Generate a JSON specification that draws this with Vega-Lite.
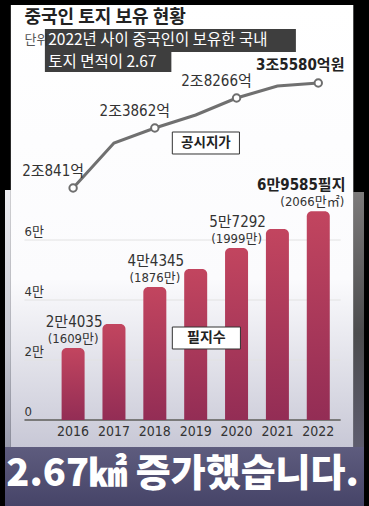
{
  "$schema": "https://vega.github.io/schema/vega-lite/v6.json",
  "width": 369,
  "height": 506,
  "autosize": {"type": "none"},
  "padding": 0,
  "background": "#000000",
  "config": {"view": {"stroke": null}},
  "datasets": {
    "one": [{}],
    "grid": [
      {"v": 0, "label": "0"},
      {"v": 20000, "label": "2만"},
      {"v": 40000, "label": "4만"},
      {"v": 60000, "label": "6만"}
    ],
    "bars": [
      {"year": 2016, "count": 24035, "label1": "2만4035", "label2": "(1609만)"},
      {"year": 2017, "count": 32000, "label1": null, "label2": null},
      {"year": 2018, "count": 44345, "label1": "4만4345", "label2": "(1876만)"},
      {"year": 2019, "count": 50300, "label1": null, "label2": null},
      {"year": 2020, "count": 57292, "label1": "5만7292", "label2": "(1999만)"},
      {"year": 2021, "count": 63700, "label1": null, "label2": null},
      {"year": 2022, "count": 69585, "label1": "6만9585필지", "label2": "(2066만㎡)"}
    ],
    "price": [
      {"year": 2016, "value": 20841, "label": "2조841억"},
      {"year": 2017, "value": 23107, "label": null},
      {"year": 2018, "value": 23862, "label": "2조3862억"},
      {"year": 2019, "value": 25770, "label": null},
      {"year": 2020, "value": 28266, "label": "2조8266억"},
      {"year": 2021, "value": 34117, "label": null},
      {"year": 2022, "value": 35580, "label": "3조5580억원"}
    ]
  },
  "resolve": {"scale": {"y": "independent"}},
  "layer": [
    {
      "layer": [
        {
          "data": {"name": "one"},
          "mark": {"type": "rect", "fill": {"gradient": "linear", "x1": 0, "y1": 0, "x2": 0, "y2": 1, "stops": [{"offset": 0, "color": "#7c7a7a"}, {"offset": 0.45, "color": "#4c4c4e"}, {"offset": 1, "color": "#67657f"}]}},
          "encoding": {
            "x": {"datum": 2022.8571, "type": "quantitative", "scale": {"domain": [2014.3333, 2023.119], "nice": false, "zero": false}, "axis": null},
            "x2": {"datum": 2023.119},
            "y": {"datum": 76000, "type": "quantitative", "scale": {"domain": [-28666.67, 140000], "nice": false, "zero": false}, "axis": null},
            "y2": {"datum": -28666.67}
          }
        },
        {
          "data": {"name": "one"},
          "mark": {"type": "rect", "fill": {"gradient": "linear", "x1": 0, "y1": 0, "x2": 0, "y2": 1, "stops": [{"offset": 0, "color": "#ececf0"}, {"offset": 0.5, "color": "#c4c6d0"}, {"offset": 1, "color": "#7e8096"}]}},
          "encoding": {
            "x": {"datum": 2014.3333, "type": "quantitative", "scale": {"domain": [2014.3333, 2023.119], "nice": false, "zero": false}, "axis": null},
            "x2": {"datum": 2014.4762},
            "y": {"datum": 76666.67, "type": "quantitative", "scale": {"domain": [-28666.67, 140000], "nice": false, "zero": false}, "axis": null},
            "y2": {"datum": -28666.67}
          }
        },
        {
          "data": {"name": "one"},
          "mark": {"type": "rect", "fill": {"gradient": "linear", "x1": 0, "y1": 0, "x2": 0, "y2": 1, "stops": [{"offset": 0, "color": "#5e5c7e"}, {"offset": 1, "color": "#464468"}]}},
          "encoding": {
            "x": {"datum": 2014.3333, "type": "quantitative", "scale": {"domain": [2014.3333, 2023.119], "nice": false, "zero": false}, "axis": null},
            "x2": {"datum": 2023.119},
            "y": {"datum": -9000, "type": "quantitative", "scale": {"domain": [-28666.67, 140000], "nice": false, "zero": false}, "axis": null},
            "y2": {"datum": -28666.67}
          }
        },
        {
          "data": {"name": "one"},
          "mark": {"type": "rect", "fill": {"gradient": "linear", "x1": 0, "y1": 0, "x2": 0, "y2": 1, "stops": [{"offset": 0, "color": "#ffffff"}, {"offset": 0.62, "color": "#fbfbfd"}, {"offset": 1, "color": "#c8c8d6"}]}},
          "encoding": {
            "x": {"datum": 2014.4762, "type": "quantitative", "scale": {"domain": [2014.3333, 2023.119], "nice": false, "zero": false}, "axis": null},
            "x2": {"datum": 2022.8571},
            "y": {"datum": 138333.33, "type": "quantitative", "scale": {"domain": [-28666.67, 140000], "nice": false, "zero": false}, "axis": null},
            "y2": {"datum": -9000}
          }
        },
        {
          "data": {"name": "grid"},
          "mark": {"type": "rule"},
          "encoding": {
            "x": {"datum": 2014.81, "type": "quantitative", "scale": {"domain": [2014.3333, 2023.119], "nice": false, "zero": false}, "axis": null},
            "x2": {"datum": 2022.548},
            "y": {"field": "v", "type": "quantitative", "scale": {"domain": [-28666.67, 140000], "nice": false, "zero": false}, "axis": null},
            "color": {"condition": {"test": "datum.v == 0", "value": "#7a7a7a"}, "value": "#e2e2e2"},
            "strokeWidth": {"condition": {"test": "datum.v == 0", "value": 2}, "value": 1}
          }
        },
        {
          "data": {"name": "grid"},
          "mark": {"type": "text", "align": "left", "baseline": "alphabetic", "dy": -4, "fontSize": 13, "color": "#333333", "font": "Liberation Sans Narrow, DejaVu Sans Condensed, Noto Sans CJK KR"},
          "encoding": {
            "x": {"datum": 2014.81, "type": "quantitative", "scale": {"domain": [2014.3333, 2023.119], "nice": false, "zero": false}, "axis": null},
            "y": {"field": "v", "type": "quantitative", "scale": {"domain": [-28666.67, 140000], "nice": false, "zero": false}, "axis": null},
            "text": {"field": "label", "type": "nominal"}
          }
        },
        {
          "data": {"name": "bars"},
          "mark": {"type": "bar", "width": 23, "cornerRadiusTopLeft": 5, "cornerRadiusTopRight": 5, "fill": {"gradient": "linear", "x1": 0, "y1": 0, "x2": 0, "y2": 1, "stops": [{"offset": 0, "color": "#c2455f"}, {"offset": 1, "color": "#932d55"}]}},
          "encoding": {
            "x": {"field": "year", "type": "quantitative", "scale": {"domain": [2014.3333, 2023.119], "nice": false, "zero": false}, "axis": null},
            "y": {"field": "count", "type": "quantitative", "scale": {"domain": [-28666.67, 140000], "nice": false, "zero": false}, "axis": null},
            "y2": {"datum": 0}
          }
        },
        {
          "data": {"name": "bars"},
          "transform": [{"filter": "datum.label1 != null && datum.year != 2022"}],
          "mark": {"type": "text", "baseline": "middle", "dx": 1, "dy": -26, "fontSize": 15, "color": "#333333", "font": "Liberation Sans Narrow, DejaVu Sans Condensed, Noto Sans CJK KR"},
          "encoding": {
            "x": {"field": "year", "type": "quantitative", "scale": {"domain": [2014.3333, 2023.119], "nice": false, "zero": false}, "axis": null},
            "y": {"field": "count", "type": "quantitative", "scale": {"domain": [-28666.67, 140000], "nice": false, "zero": false}, "axis": null},
            "text": {"field": "label1", "type": "nominal"}
          }
        },
        {
          "data": {"name": "bars"},
          "transform": [{"filter": "datum.label2 != null && datum.year != 2022"}],
          "mark": {"type": "text", "baseline": "middle", "dx": 0, "dy": -9, "fontSize": 13, "color": "#333333", "font": "Liberation Sans Narrow, DejaVu Sans Condensed, Noto Sans CJK KR"},
          "encoding": {
            "x": {"field": "year", "type": "quantitative", "scale": {"domain": [2014.3333, 2023.119], "nice": false, "zero": false}, "axis": null},
            "y": {"field": "count", "type": "quantitative", "scale": {"domain": [-28666.67, 140000], "nice": false, "zero": false}, "axis": null},
            "text": {"field": "label2", "type": "nominal"}
          }
        },
        {
          "data": {"name": "bars"},
          "transform": [{"filter": "datum.year == 2022"}],
          "mark": {"type": "text", "baseline": "middle", "dx": -17, "dy": -26, "fontSize": 15, "fontWeight": "bold", "color": "#222222", "font": "Liberation Sans Narrow, DejaVu Sans Condensed, Noto Sans CJK KR"},
          "encoding": {
            "x": {"field": "year", "type": "quantitative", "scale": {"domain": [2014.3333, 2023.119], "nice": false, "zero": false}, "axis": null},
            "y": {"field": "count", "type": "quantitative", "scale": {"domain": [-28666.67, 140000], "nice": false, "zero": false}, "axis": null},
            "text": {"field": "label1", "type": "nominal"}
          }
        },
        {
          "data": {"name": "bars"},
          "transform": [{"filter": "datum.year == 2022"}],
          "mark": {"type": "text", "baseline": "middle", "dx": -6, "dy": -9, "fontSize": 13, "color": "#333333", "font": "Liberation Sans Narrow, DejaVu Sans Condensed, Noto Sans CJK KR"},
          "encoding": {
            "x": {"field": "year", "type": "quantitative", "scale": {"domain": [2014.3333, 2023.119], "nice": false, "zero": false}, "axis": null},
            "y": {"field": "count", "type": "quantitative", "scale": {"domain": [-28666.67, 140000], "nice": false, "zero": false}, "axis": null},
            "text": {"field": "label2", "type": "nominal"}
          }
        },
        {
          "data": {"name": "bars"},
          "mark": {"type": "text", "baseline": "middle", "fontSize": 14, "color": "#333333", "font": "Liberation Sans Narrow, DejaVu Sans Condensed, Noto Sans CJK KR"},
          "encoding": {
            "x": {"field": "year", "type": "quantitative", "scale": {"domain": [2014.3333, 2023.119], "nice": false, "zero": false}, "axis": null},
            "y": {"datum": -4000, "type": "quantitative", "scale": {"domain": [-28666.67, 140000], "nice": false, "zero": false}, "axis": null},
            "text": {"field": "year", "type": "nominal"}
          }
        },
        {
          "data": {"name": "one"},
          "mark": {"type": "rect", "fill": "white", "stroke": "#333333", "strokeWidth": 1},
          "encoding": {
            "x": {"datum": 2018.428, "type": "quantitative", "scale": {"domain": [2014.3333, 2023.119], "nice": false, "zero": false}, "axis": null},
            "x2": {"datum": 2020.095},
            "y": {"datum": 31000, "type": "quantitative", "scale": {"domain": [-28666.67, 140000], "nice": false, "zero": false}, "axis": null},
            "y2": {"datum": 23667}
          }
        },
        {
          "data": {"name": "one"},
          "mark": {"type": "text", "text": "필지수", "baseline": "middle", "fontSize": 14, "fontWeight": "bold", "color": "#222222", "font": "Noto Sans CJK KR"},
          "encoding": {
            "x": {"datum": 2019.26, "type": "quantitative", "scale": {"domain": [2014.3333, 2023.119], "nice": false, "zero": false}, "axis": null},
            "y": {"datum": 27333, "type": "quantitative", "scale": {"domain": [-28666.67, 140000], "nice": false, "zero": false}, "axis": null}
          }
        },
        {
          "data": {"name": "one"},
          "mark": {"type": "rect", "fill": "white", "stroke": "#333333", "strokeWidth": 1},
          "encoding": {
            "x": {"datum": 2018.428, "type": "quantitative", "scale": {"domain": [2014.3333, 2023.119], "nice": false, "zero": false}, "axis": null},
            "x2": {"datum": 2020.071},
            "y": {"datum": 96000, "type": "quantitative", "scale": {"domain": [-28666.67, 140000], "nice": false, "zero": false}, "axis": null},
            "y2": {"datum": 88667}
          }
        },
        {
          "data": {"name": "one"},
          "mark": {"type": "text", "text": "공시지가", "baseline": "middle", "fontSize": 13.5, "fontWeight": "bold", "color": "#222222", "font": "Noto Sans CJK KR"},
          "encoding": {
            "x": {"datum": 2019.25, "type": "quantitative", "scale": {"domain": [2014.3333, 2023.119], "nice": false, "zero": false}, "axis": null},
            "y": {"datum": 92333, "type": "quantitative", "scale": {"domain": [-28666.67, 140000], "nice": false, "zero": false}, "axis": null}
          }
        },
        {
          "data": {"name": "one"},
          "mark": {"type": "text", "text": "중국인 토지 보유 현황", "align": "left", "baseline": "middle", "fontSize": 18, "fontWeight": "bold", "color": "#222222", "font": "Noto Sans CJK KR"},
          "encoding": {
            "x": {"datum": 2014.81, "type": "quantitative", "scale": {"domain": [2014.3333, 2023.119], "nice": false, "zero": false}, "axis": null},
            "y": {"datum": 134000, "type": "quantitative", "scale": {"domain": [-28666.67, 140000], "nice": false, "zero": false}, "axis": null}
          }
        },
        {
          "data": {"name": "one"},
          "mark": {"type": "text", "text": "단위", "align": "left", "baseline": "middle", "fontSize": 13, "color": "#555555", "font": "Noto Sans CJK KR"},
          "encoding": {
            "x": {"datum": 2014.81, "type": "quantitative", "scale": {"domain": [2014.3333, 2023.119], "nice": false, "zero": false}, "axis": null},
            "y": {"datum": 126667, "type": "quantitative", "scale": {"domain": [-28666.67, 140000], "nice": false, "zero": false}, "axis": null}
          }
        },
        {
          "data": {"name": "one"},
          "mark": {"type": "rect", "fill": "#2f2f2f", "opacity": 0.93},
          "encoding": {
            "x": {"datum": 2015.3095, "type": "quantitative", "scale": {"domain": [2014.3333, 2023.119], "nice": false, "zero": false}, "axis": null},
            "x2": {"datum": 2021.4524},
            "y": {"datum": 130333, "type": "quantitative", "scale": {"domain": [-28666.67, 140000], "nice": false, "zero": false}, "axis": null},
            "y2": {"datum": 122667}
          }
        },
        {
          "data": {"name": "one"},
          "mark": {"type": "rect", "fill": "#2f2f2f", "opacity": 0.93},
          "encoding": {
            "x": {"datum": 2015.3095, "type": "quantitative", "scale": {"domain": [2014.3333, 2023.119], "nice": false, "zero": false}, "axis": null},
            "x2": {"datum": 2018.4048},
            "y": {"datum": 122667, "type": "quantitative", "scale": {"domain": [-28666.67, 140000], "nice": false, "zero": false}, "axis": null},
            "y2": {"datum": 116000}
          }
        },
        {
          "data": {"name": "one"},
          "mark": {"type": "text", "text": "2022년 사이 중국인이 보유한 국내", "align": "left", "baseline": "middle", "fontSize": 15.5, "letterSpacing": 1, "color": "white", "font": "Noto Sans CJK KR"},
          "encoding": {
            "x": {"datum": 2015.39, "type": "quantitative", "scale": {"domain": [2014.3333, 2023.119], "nice": false, "zero": false}, "axis": null},
            "y": {"datum": 126833, "type": "quantitative", "scale": {"domain": [-28666.67, 140000], "nice": false, "zero": false}, "axis": null}
          }
        },
        {
          "data": {"name": "one"},
          "mark": {"type": "text", "text": "토지 면적이 2.67", "align": "left", "baseline": "middle", "fontSize": 15.5, "letterSpacing": 1, "color": "white", "font": "Noto Sans CJK KR"},
          "encoding": {
            "x": {"datum": 2015.39, "type": "quantitative", "scale": {"domain": [2014.3333, 2023.119], "nice": false, "zero": false}, "axis": null},
            "y": {"datum": 119167, "type": "quantitative", "scale": {"domain": [-28666.67, 140000], "nice": false, "zero": false}, "axis": null}
          }
        },
        {
          "data": {"name": "one"},
          "mark": {"type": "text", "text": "2.67㎢ 증가했습니다.", "align": "center", "baseline": "middle", "fontSize": 38, "fontWeight": 900, "color": "white", "font": "Noto Sans CJK KR"},
          "encoding": {
            "x": {"datum": 2018.679, "type": "quantitative", "scale": {"domain": [2014.3333, 2023.119], "nice": false, "zero": false}, "axis": null},
            "y": {"datum": -18333, "type": "quantitative", "scale": {"domain": [-28666.67, 140000], "nice": false, "zero": false}, "axis": null}
          }
        }
      ]
    },
    {
      "data": {"name": "price"},
      "layer": [
        {
          "mark": {"type": "line", "color": "#707070", "strokeWidth": 3},
          "encoding": {
            "x": {"field": "year", "type": "quantitative", "scale": {"domain": [2014.3333, 2023.119], "nice": false, "zero": false}, "axis": null},
            "y": {"field": "value", "type": "quantitative", "scale": {"type": "linear", "domain": [20841, 23862, 28266, 35580], "range": [188, 128, 98, 83], "nice": false, "zero": false}, "axis": null}
          }
        },
        {
          "transform": [{"filter": "datum.label != null"}],
          "mark": {"type": "circle", "fill": "white", "stroke": "#6e6e6e", "strokeWidth": 2, "size": 55, "opacity": 1},
          "encoding": {
            "x": {"field": "year", "type": "quantitative", "scale": {"domain": [2014.3333, 2023.119], "nice": false, "zero": false}, "axis": null},
            "y": {"field": "value", "type": "quantitative", "scale": {"type": "linear", "domain": [20841, 23862, 28266, 35580], "range": [188, 128, 98, 83], "nice": false, "zero": false}, "axis": null}
          }
        },
        {
          "transform": [{"filter": "datum.label != null && datum.year != 2022"}],
          "mark": {"type": "text", "baseline": "middle", "dx": -20, "dy": -17, "fontSize": 15, "color": "#333333", "font": "Liberation Sans Narrow, DejaVu Sans Condensed, Noto Sans CJK KR"},
          "encoding": {
            "x": {"field": "year", "type": "quantitative", "scale": {"domain": [2014.3333, 2023.119], "nice": false, "zero": false}, "axis": null},
            "y": {"field": "value", "type": "quantitative", "scale": {"type": "linear", "domain": [20841, 23862, 28266, 35580], "range": [188, 128, 98, 83], "nice": false, "zero": false}, "axis": null},
            "text": {"field": "label", "type": "nominal"}
          }
        },
        {
          "transform": [{"filter": "datum.year == 2022"}],
          "mark": {"type": "text", "baseline": "middle", "dx": -18, "dy": -18, "fontSize": 15, "fontWeight": "bold", "color": "#222222", "font": "Liberation Sans Narrow, DejaVu Sans Condensed, Noto Sans CJK KR"},
          "encoding": {
            "x": {"field": "year", "type": "quantitative", "scale": {"domain": [2014.3333, 2023.119], "nice": false, "zero": false}, "axis": null},
            "y": {"field": "value", "type": "quantitative", "scale": {"type": "linear", "domain": [20841, 23862, 28266, 35580], "range": [188, 128, 98, 83], "nice": false, "zero": false}, "axis": null},
            "text": {"field": "label", "type": "nominal"}
          }
        }
      ]
    }
  ]
}
